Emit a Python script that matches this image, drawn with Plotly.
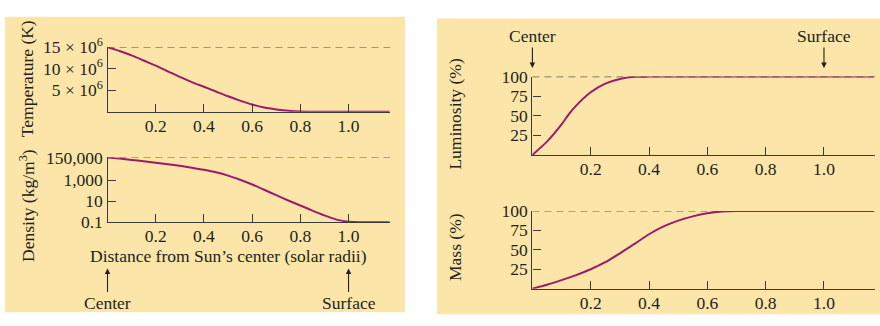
import plotly.graph_objects as go

# ---- data: radial profiles of the Sun (distance in solar radii) ----
temp_r = [0, 0.05, 0.1, 0.15, 0.2, 0.25, 0.3, 0.35, 0.4, 0.45, 0.5, 0.55, 0.6, 0.65, 0.7, 0.75, 0.8, 0.85, 1.17]
temp_mk = [15, 14.1, 13.1, 11.9, 10.7, 9.4, 8.1, 6.9, 5.8, 4.7, 3.6, 2.6, 1.7, 1.0, 0.55, 0.22, 0.05, 0, 0]  # 10^6 K

dens_r = [0, 0.05, 0.1, 0.15, 0.2, 0.25, 0.3, 0.35, 0.4, 0.45, 0.5, 0.55, 0.6, 0.65, 0.7,
          0.75, 0.8, 0.85, 0.9, 0.95, 1.0, 1.05, 1.17]
density = [150000, 117000, 87000, 65000, 47000, 34000, 24000, 16000, 10000, 5750, 2800, 1120, 400, 126, 38,
           12, 4, 1.3, 0.45, 0.18, 0.11, 0.1, 0.1]  # kg/m^3

lum_r = [0, 0.05, 0.1, 0.125, 0.15, 0.2, 0.25, 0.3, 0.35, 0.4, 1.17]
luminosity = [0, 17, 39, 52, 63, 80, 91, 97, 99.7, 100, 100]  # percent

mass_r = [0, 0.05, 0.1, 0.15, 0.2, 0.25, 0.3, 0.35, 0.4, 0.45, 0.5, 0.55, 0.6, 0.65, 0.7, 1.17]
mass = [0, 5, 11, 17.5, 25, 34, 45.5, 57.5, 70, 80, 87.5, 93, 97, 99.3, 100, 100]  # percent

x_ticks = [0.2, 0.4, 0.6, 0.8, 1.0]
x_ticktext = ["0.2", "0.4", "0.6", "0.8", "1.0"]
temp_ticks = [5, 10, 15]
temp_ticktext = ["5 × 10<sup>6</sup>", "10 × 10<sup>6</sup>", "15 × 10<sup>6</sup>"]
dens_ticks = [0.1, 10, 1000, 150000]
dens_ticktext = ["0.1", "10", "1,000", "150,000"]
pct_ticks = [25, 50, 75, 100]

# ---- styling ----
W, H = 880, 326
FONT = "Liberation Serif"
SIZE = 17.5
INK = "#231f20"
AXIS = "#3a3a3a"
CURVE = "#9c1a6c"
PANEL = "#fce5a8"


def px(x):
    return x / W


def py(y):
    return 1 - y / H


fig = go.Figure()


def add_curve(xs, ys, xa, ya):
    fig.add_trace(go.Scatter(x=xs, y=ys, xaxis=xa, yaxis=ya, mode="lines",
                             line=dict(color=CURVE, width=2, shape="spline", smoothing=0.6),
                             hoverinfo="skip"))


def add_dash(x_end, level, xa, ya):
    fig.add_trace(go.Scatter(x=[0, x_end], y=[level, level], xaxis=xa, yaxis=ya, mode="lines",
                             line=dict(color="#5a5a5a", width=1.2, dash="7px,5px"),
                             hoverinfo="skip"))


# dashed reference levels first so the curves sit on top
add_dash(1.172, 15, "x", "y")
add_dash(1.172, 150000, "x2", "y2")
add_dash(1.175, 100, "x3", "y3")
add_dash(1.175, 100, "x4", "y4")

add_curve(temp_r, temp_mk, "x", "y")
add_curve(dens_r, density, "x2", "y2")
add_curve(lum_r, luminosity, "x3", "y3")
add_curve(mass_r, mass, "x4", "y4")

axis_common = dict(showline=True, linecolor=AXIS, linewidth=1.3, ticks="inside", ticklen=8,
                   tickwidth=1.2, tickcolor=AXIS, showgrid=False, zeroline=False,
                   tickfont=dict(family=FONT, size=SIZE, color=INK))
x_common = dict(axis_common, tickvals=x_ticks, ticktext=x_ticktext, ticklabelstandoff=-2)

left_x = [px(107.5), px(390)]
right_x = [px(532.4), px(875)]

fig.update_layout(
    width=W, height=H, margin=dict(l=0, r=0, t=0, b=0),
    paper_bgcolor="white", plot_bgcolor="rgba(0,0,0,0)", showlegend=False,
    font=dict(family=FONT, color=INK),
    xaxis=dict(x_common, domain=left_x, range=[0, 1.172], anchor="y"),
    yaxis=dict(axis_common, domain=[py(107), py(37.7)], range=[0, 15], tickvals=temp_ticks,
               ticktext=temp_ticktext, anchor="x"),
    xaxis2=dict(x_common, domain=left_x, range=[0, 1.172], anchor="y2"),
    yaxis2=dict(axis_common, type="log", domain=[py(225.5), py(156)], range=[-1, 5.1761],
                tickvals=dens_ticks, ticktext=dens_ticktext, anchor="x2"),
    xaxis3=dict(x_common, domain=right_x, range=[0, 1.175], anchor="y3"),
    yaxis3=dict(axis_common, domain=[py(153.3), py(69.3)], range=[0, 100], tickvals=pct_ticks,
                anchor="x3"),
    xaxis4=dict(x_common, domain=right_x, range=[0, 1.175], anchor="y4"),
    yaxis4=dict(axis_common, domain=[py(296.7), py(213.3)], range=[0, 100], tickvals=pct_ticks,
                anchor="x4"),
)

# cream background panels
fig.add_shape(type="rect", xref="paper", yref="paper", x0=px(5), x1=px(405), y0=py(322), y1=py(5),
              fillcolor=PANEL, line=dict(width=0), layer="below")
fig.add_shape(type="rect", xref="paper", yref="paper", x0=px(437), x1=px(880), y0=py(324), y1=py(7),
              fillcolor=PANEL, line=dict(width=0), layer="below")

title_font = dict(family=FONT, size=SIZE, color=INK)

# rotated axis titles
for text, x, y in [("Temperature (K)", 27, 72), ("Density (kg/m<sup>3</sup>)", 27, 208),
                   ("Luminosity (%)", 455, 110), ("Mass (%)", 455, 252)]:
    fig.add_annotation(text=text, xref="paper", yref="paper", x=px(x), y=py(y), textangle=-90,
                       showarrow=False, font=title_font, xanchor="center", yanchor="middle")

fig.add_annotation(text="Distance from Sun’s center (solar radii)", xref="paper", yref="paper",
                   x=px(228), y=py(262), showarrow=False, font=title_font,
                   xanchor="center", yanchor="middle")

# Center / Surface pointers
arrow_style = dict(showarrow=True, arrowhead=2, arrowsize=1, arrowwidth=1.1, arrowcolor=INK,
                   font=dict(family=FONT, size=SIZE, color=INK))
fig.add_annotation(text="Center", xref="x2", yref="paper", x=0, y=py(275), ax=0, ay=35, **arrow_style)
fig.add_annotation(text="Surface", xref="x2", yref="paper", x=1.0, y=py(275), ax=0, ay=35, **arrow_style)
fig.add_annotation(text="Center", xref="x3", yref="paper", x=0, y=py(60), ax=0, ay=-32, **arrow_style)
fig.add_annotation(text="Surface", xref="x3", yref="paper", x=1.0, y=py(60), ax=0, ay=-32, **arrow_style)

fig.write_html("out.html")
